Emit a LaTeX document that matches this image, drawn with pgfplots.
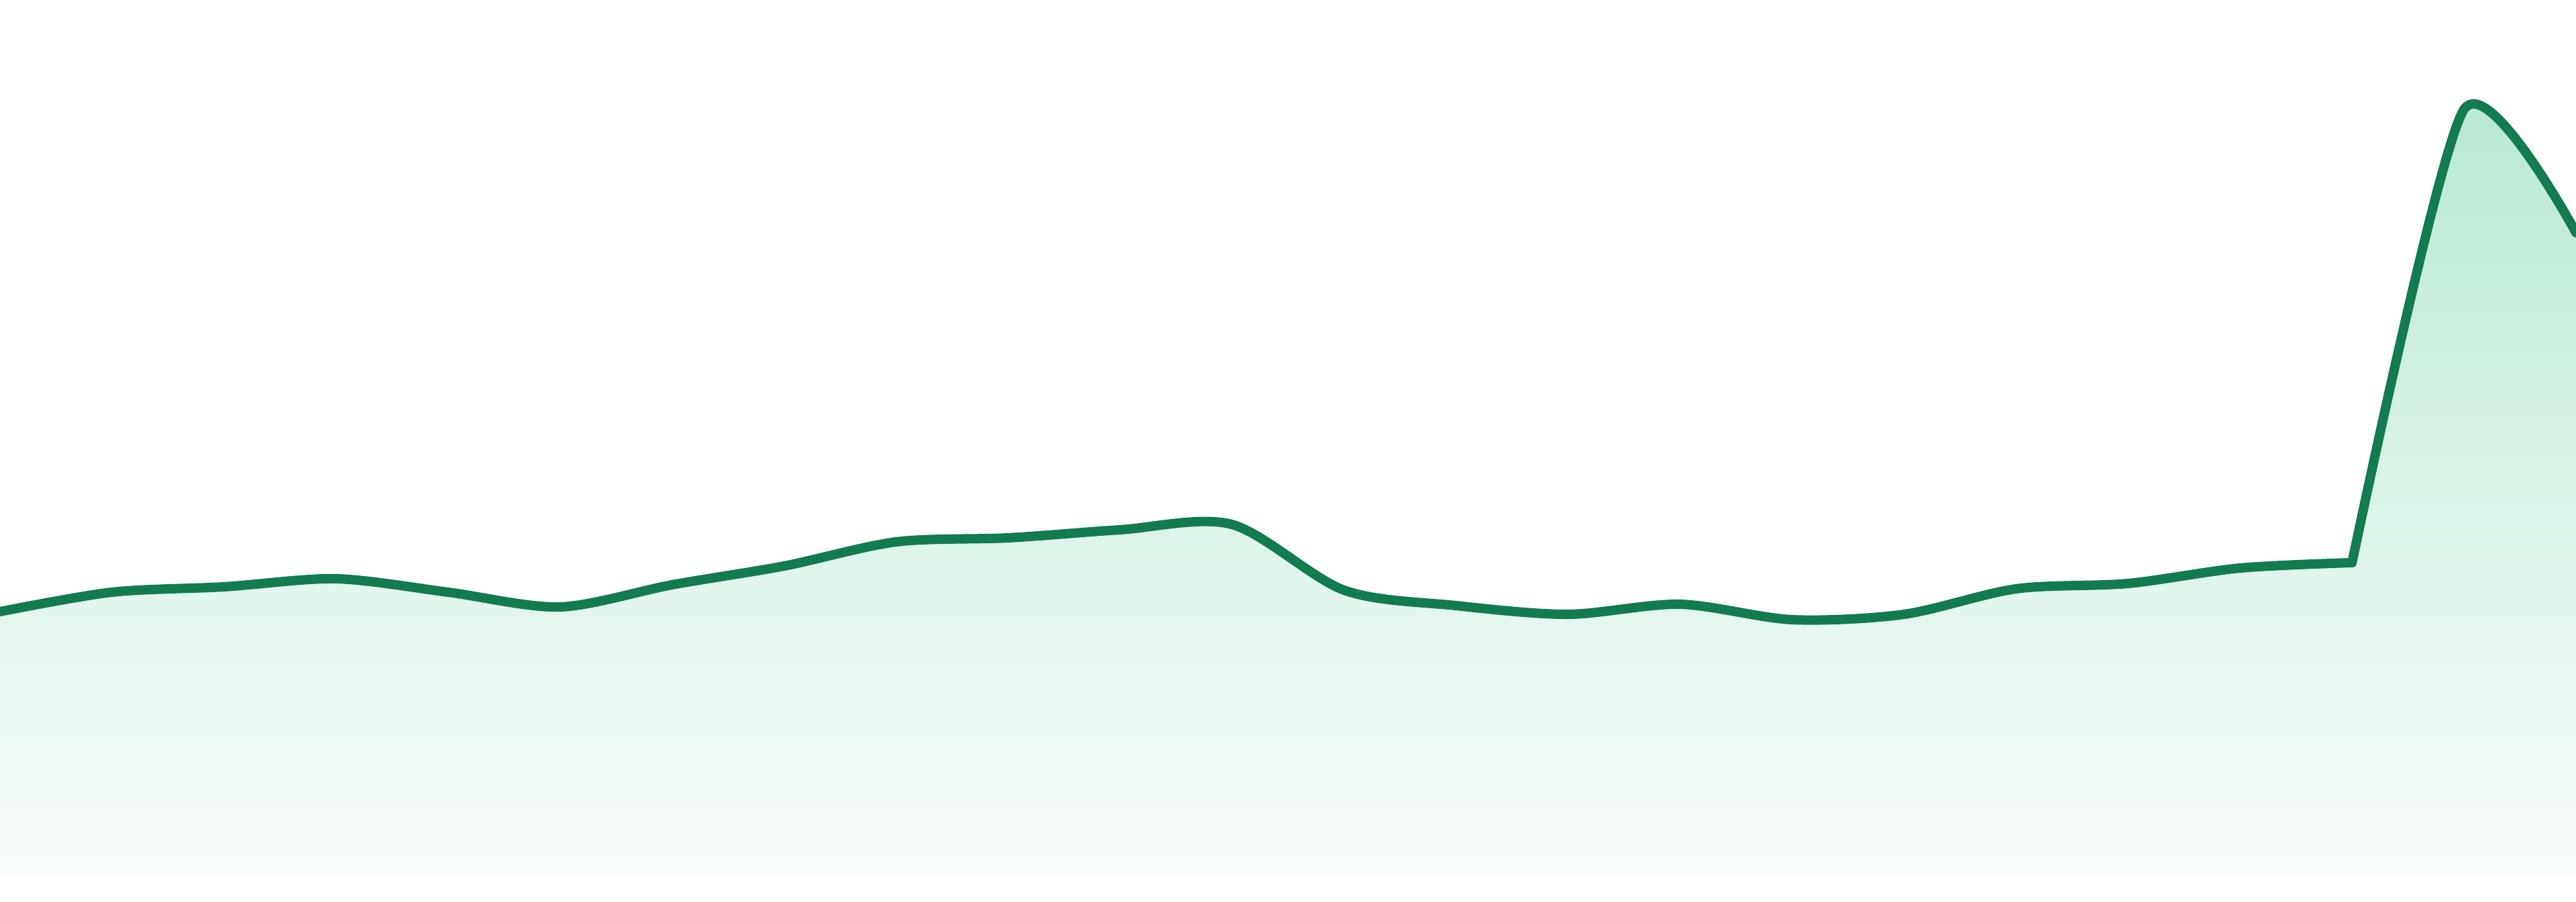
\documentclass[border=0pt]{standalone}
\usepackage{pgfplots}
\pgfplotsset{compat=1.18}
\usepgfplotslibrary{fillbetween}

\definecolor{lineGreen}{RGB}{18,123,80}
\definecolor{fillTop}{RGB}{185,233,211}
\definecolor{fillBottom}{RGB}{249,253,251}

\begin{document}
\begin{tikzpicture}
	\begin{axis}[
		name=ax,
		hide axis,
		scale only axis,
		width=19.2cm, height=6.72cm,
		xmin=0, xmax=23,
		ymin=0, ymax=1344,
		]
		% helper lines: shaded band, white cover above the curve
		\addplot[draw=none, name path=base] coordinates {(0,39) (23,39)};
		\addplot[draw=none, name path=gtop] coordinates {(0,1195) (23,1195)};
		\addplot[draw=none, name path=ceilA] coordinates {(0,1344) (21,1344)};
		\addplot[draw=none, name path=ceilB] coordinates {(21,1344) (23,1344)};

		\addplot[name path=A, color=lineGreen, line width=2pt, line cap=round, line join=round, smooth, tension=0.5] coordinates {
			(0, 432)
			(1, 461)
			(2, 469)
			(3, 481)
			(4, 461)
			(5, 439)
			(6, 472)
			(7, 500)
			(8, 536)
			(9, 542)
			(10, 554)
			(11, 562)
			(12, 464)
			(13, 441)
			(14, 428)
			(15, 443)
			(16, 420)
			(17, 428)
			(18, 466)
			(19, 474)
			(20, 497)
			(21, 505)
		};
		\addplot[name path=B, color=lineGreen, line width=2pt, line cap=round, line join=round, smooth, tension=0.4] coordinates {
			(21, 505)
			(22, 1181)
			(23, 997)
		};

		\addplot[top color=fillTop, bottom color=fillBottom, draw=none] fill between[of=gtop and base];
		\addplot[fill=white, draw=white, line width=0.6pt, line join=round] fill between[of=A and ceilA];
		\addplot[fill=white, draw=white, line width=0.6pt, line join=round] fill between[of=B and ceilB];
	\end{axis}
	\pgfresetboundingbox
	\path (ax.south west) rectangle (ax.north east);
\end{tikzpicture}
\end{document}
